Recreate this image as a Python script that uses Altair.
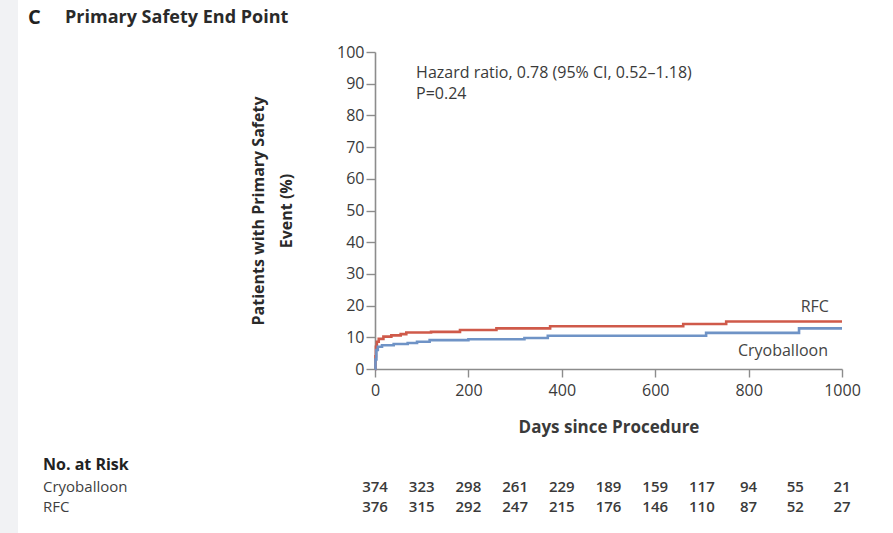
import altair as alt
import pandas as pd

# ---- data ----
rfc_days = [0, 1, 2, 4, 8, 18, 35, 55, 67, 120, 182, 260, 375, 660, 752, 1000]
rfc_pct = [0, 4.0, 7.0, 8.6, 9.5, 10.2, 10.6, 11.0, 11.5, 11.7, 12.3, 12.8, 13.5, 14.2, 15.0, 15.0]

cryo_days = [0, 1, 3, 6, 15, 40, 70, 90, 117, 200, 320, 370, 709, 908, 1000]
cryo_pct = [0, 3.0, 6.0, 7.0, 7.5, 7.9, 8.2, 8.6, 9.1, 9.4, 9.8, 10.5, 11.4, 12.8, 12.8]

risk_days = [0, 100, 200, 300, 400, 500, 600, 700, 800, 900, 1000]
risk_cryo = [374, 323, 298, 261, 229, 189, 159, 117, 94, 55, 21]
risk_rfc = [376, 315, 292, 247, 215, 176, 146, 110, 87, 52, 27]

x_ticks = [0, 200, 400, 600, 800, 1000]
y_ticks = [0, 10, 20, 30, 40, 50, 60, 70, 80, 90, 100]

groups = ["RFC", "Cryoballoon"]
colors = ["#cf5a4a", "#6f93c6"]

FONT = "Open Sans"
TXT = "#3a3a3a"

# ---- tables ----
curve_df = pd.concat([
    pd.DataFrame({"day": rfc_days, "pct": rfc_pct, "group": "RFC"}),
    pd.DataFrame({"day": cryo_days, "pct": cryo_pct, "group": "Cryoballoon"}),
], ignore_index=True)

W, H = 467, 317
L, T = 375, 52

xscale = alt.Scale(domain=[0, 1000], nice=False, zero=False)
yscale = alt.Scale(domain=[0, 100], nice=False)

x_axis = alt.Axis(
    values=x_ticks, format="d", title="Days since Procedure", grid=False,
    domainColor="#8c8c8c", domainWidth=1.6, tickColor="#8c8c8c", tickWidth=1.4,
    tickSize=8, labelFont=FONT, labelFontSize=16, labelColor=TXT, labelPadding=5,
    titleFont=FONT, titleFontSize=17, titleFontWeight="bold", titleColor=TXT,
    titlePadding=21, labelFlush=False, labelOverlap=False)
y_axis = alt.Axis(
    values=y_ticks, title=["Patients with Primary Safety", "Event (%)"], grid=False,
    domainColor="#8c8c8c", domainWidth=1.6, tickColor="#8c8c8c", tickWidth=1.4,
    tickSize=9, labelFont=FONT, labelFontSize=16, labelColor=TXT, labelPadding=2,
    titleFont=FONT, titleFontSize=16, titleFontWeight="bold", titleColor="#2a2a2a",
    titleAngle=-90, titleX=-112, titleY=H / 2, titleAlign="center",
    titleBaseline="alphabetic", titleLineHeight=28, labelFlush=False,
    labelOverlap=False)

X = alt.X("day:Q", scale=xscale, axis=x_axis)
Y = alt.Y("pct:Q", scale=yscale, axis=y_axis)

lines = alt.Chart(curve_df).mark_line(
    interpolate="step-after", strokeWidth=2.6, clip=False
).encode(
    x=X, y=Y,
    color=alt.Color("group:N", scale=alt.Scale(domain=groups, range=colors), legend=None),
    detail="group:N",
)

# curve labels and hazard text, in data coordinates
ann_df = pd.DataFrame({
    "day": [972, 970],
    "pct": [19.6, 5.6],
    "label": ["RFC", "Cryoballoon"],
})
curve_labels = alt.Chart(ann_df).mark_text(
    align="right", baseline="middle", font=FONT, fontSize=16, color="#444444"
).encode(x=X, y=Y, text="label:N")

hz_df = pd.DataFrame({
    "day": [88, 88],
    "pct": [93.4, 86.6],
    "label": ["Hazard ratio, 0.78 (95% CI, 0.52\u20131.18)", "P=0.24"],
})
hz_text = alt.Chart(hz_df).mark_text(
    align="left", baseline="middle", font=FONT, fontSize=16, color=TXT
).encode(x=X, y=Y, text="label:N")


# number at risk table: one text layer per row
def risk_row(name, values, ypix):
    df = pd.DataFrame({"day": risk_days, "n": values})
    nums = alt.Chart(df).mark_text(
        align="center", baseline="middle", font=FONT, fontSize=15, fontWeight=600,
        color="#3a3a3a"
    ).encode(x=X, y=alt.value(ypix - T), text="n:Q")
    lab = alt.Chart(pd.DataFrame({"label": [name]})).mark_text(
        align="left", baseline="middle", font=FONT, fontSize=15, color="#3f3f3f"
    ).encode(x=alt.value(43 - L), y=alt.value(ypix - T), text="label:N")
    return nums + lab


cryo_row = risk_row("Cryoballoon", risk_cryo, 487)
rfc_row = risk_row("RFC", risk_rfc, 507)

head_df = pd.DataFrame({"label": ["No. at Risk"]})
head_text = alt.Chart(head_df).mark_text(
    align="left", baseline="middle", font=FONT, fontSize=16, fontWeight="bold", color="#222222"
).encode(x=alt.value(43 - L), y=alt.value(465 - T), text="label:N")

title_c = alt.Chart(pd.DataFrame({"label": ["C"]})).mark_text(
    align="left", baseline="middle", font=FONT, fontSize=20, fontWeight="bold", color="#222222"
).encode(x=alt.value(28 - L), y=alt.value(18 - T), text="label:N")
title_main = alt.Chart(pd.DataFrame({"label": ["Primary Safety End Point"]})).mark_text(
    align="left", baseline="middle", font=FONT, fontSize=18, fontWeight="bold", color="#2a2a2a"
).encode(x=alt.value(65 - L), y=alt.value(18 - T), text="label:N")

strip = alt.Chart(pd.DataFrame({"k": [0]})).mark_rect(color="#f1f2f4").encode(
    x=alt.value(0 - L), x2=alt.value(18 - L), y=alt.value(0 - T), y2=alt.value(533 - T)
)

chart = alt.layer(
    strip, lines, curve_labels, hz_text, cryo_row, rfc_row, head_text, title_c, title_main
).properties(
    width=W, height=H,
    background="white",
    autosize=alt.AutoSizeParams(type="none"),
    padding={"left": L, "top": T, "right": 893 - L - W, "bottom": 533 - T - H},
).configure_view(stroke=None)

chart.save("out.html", embed_options={"renderer": "svg", "actions": False})
